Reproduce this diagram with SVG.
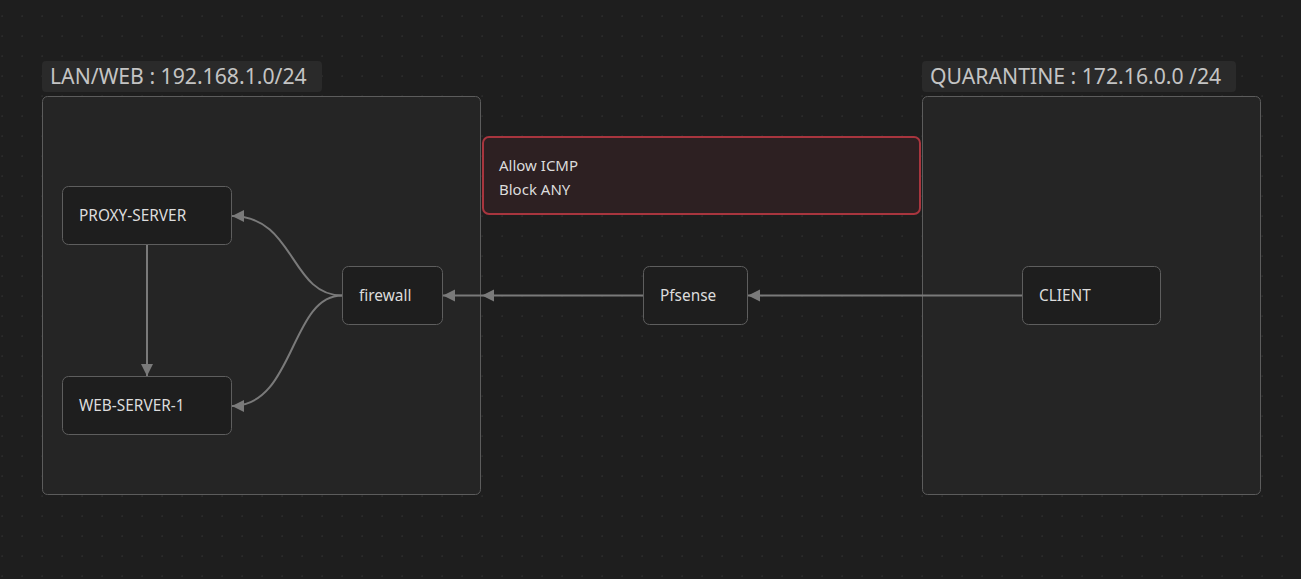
<svg xmlns="http://www.w3.org/2000/svg" width="1301" height="579" viewBox="0 0 1301 579">
<style>
.grp{fill:#252525;stroke:#5c5c5c;stroke-width:1}
.lbg{fill:#2a2a2a}
.ltxt{font-family:"Noto Sans","Open Sans",sans-serif;font-size:21.2px;fill:#c4c4c4}
.node{fill:#1e1e1e;stroke:#5e5e5e;stroke-width:1}
.ntxt{font-family:"Noto Sans","Open Sans",sans-serif;font-size:15.4px;fill:#dcdcdc}
.note{font-family:"Noto Sans","Open Sans",sans-serif;font-size:15px;fill:#dcdcdc}
.edge{fill:none;stroke:#7a7a7a;stroke-width:2}
</style>
<defs>
<pattern id="dots" x="0" y="0" width="20" height="20" patternUnits="userSpaceOnUse">
<rect x="1.5" y="15.5" width="1.2" height="1.2" fill="#383838"/>
</pattern>
<marker id="arr" markerUnits="userSpaceOnUse" markerWidth="14" markerHeight="14" refX="12" refY="7" orient="auto">
<path d="M0,1 L12,7 L0,13 Z" fill="#7a7a7a"/>
</marker>
</defs>
<rect width="1301" height="579" fill="#1e1e1e"/>
<rect width="1301" height="579" fill="url(#dots)"/>

<g id="group-lan">
<rect class="grp" x="42.5" y="96.5" width="438" height="398" rx="5"/>
<rect class="lbg" x="42" y="61" width="280" height="31" rx="4"/>
<text class="ltxt" x="50" y="84">LAN/WEB : 192.168.1.0/24</text>
</g>
<g id="group-quarantine">
<rect class="grp" x="922.5" y="96.5" width="338" height="398" rx="5"/>
<rect class="lbg" x="922" y="61" width="314" height="31" rx="4"/>
<text class="ltxt" x="930" y="84">QUARANTINE : 172.16.0.0 /24</text>
</g>

<g id="note-rules">
<rect x="483" y="137" width="437" height="77" rx="6" fill="#2d2022" stroke="#a8353e" stroke-width="2"/>
<text class="note" x="499" y="171">Allow ICMP</text>
<text class="note" x="499" y="195">Block ANY</text>
</g>

<g id="connectors">
<path class="edge" d="M1022,295.5 L748,295.5" marker-end="url(#arr)"/>
<path class="edge" d="M643,295.5 L482,295.5" marker-end="url(#arr)"/>
<path class="edge" d="M482,295.5 L443,295.5" marker-end="url(#arr)"/>
<path class="edge" d="M342,295.5 C290,295.5 295,216 232,216" marker-end="url(#arr)"/>
<path class="edge" d="M342,295.5 C290,295.5 295,406 232,406" marker-end="url(#arr)"/>
<path class="edge" d="M147,245 L147,376" marker-end="url(#arr)"/>
</g>

<g id="node-proxy">
<rect class="node" x="62.5" y="186.5" width="169" height="58" rx="6"/>
<text class="ntxt" x="79" y="221">PROXY-SERVER</text>
</g>
<g id="node-web">
<rect class="node" x="62.5" y="376.5" width="169" height="58" rx="6"/>
<text class="ntxt" x="79" y="411">WEB-SERVER-1</text>
</g>
<g id="node-firewall">
<rect class="node" x="342.5" y="266.5" width="100" height="58" rx="6"/>
<text class="ntxt" x="359" y="301">firewall</text>
</g>
<g id="node-pfsense">
<rect class="node" x="643.5" y="266.5" width="104" height="58" rx="6"/>
<text class="ntxt" x="660" y="301">Pfsense</text>
</g>
<g id="node-client">
<rect class="node" x="1022.5" y="266.5" width="138" height="58" rx="6"/>
<text class="ntxt" x="1039" y="301">CLIENT</text>
</g>
</svg>
